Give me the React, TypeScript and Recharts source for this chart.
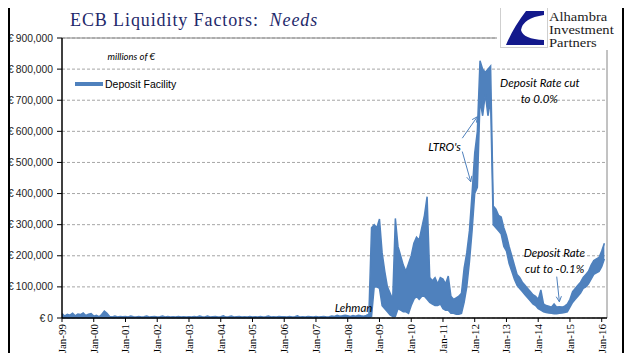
import {
  AreaChart,
  Area,
  XAxis,
  YAxis,
  CartesianGrid,
  ReferenceLine,
  ReferenceDot,
} from "recharts";

// x axis: month index, 0 = Jan-99
const yearLabels = [
  "Jan-99", "Jan-00", "Jan-01", "Jan-02", "Jan-03", "Jan-04",
  "Jan-05", "Jan-06", "Jan-07", "Jan-08", "Jan-09", "Jan-10",
  "Jan-11", "Jan-12", "Jan-13", "Jan-14", "Jan-15", "Jan-16",
];
const yTicks = [0, 100000, 200000, 300000, 400000, 500000, 600000, 700000, 800000, 900000];

// ECB deposit facility, millions of €, monthly high / low, Jan-99 .. Feb-16
const depositHigh = [
  14000, 6000, 12000, 9000, 15000, 7000, 13000, 11000, 16000, 8000, 12000, 14000, // 1999
  6000, 9000, 4000, 11000, 22000, 15000, 5000, 3000, 6000, 3000, 5000, 4000, // 2000
  5000, 3000, 6000, 4000, 3000, 5000, 3000, 4000, 6000, 3000, 4000, 5000, // 2001
  3000, 4000, 6000, 3000, 5000, 3000, 4000, 3000, 5000, 3000, 4000, 3000, // 2002
  4000, 3000, 5000, 3000, 6000, 4000, 3000, 6000, 3000, 4000, 5000, 3000, // 2003
  4000, 7000, 3000, 4000, 6000, 3000, 4000, 5000, 3000, 4000, 3000, 5000, // 2004
  3000, 4000, 3000, 5000, 3000, 4000, 6000, 3000, 4000, 3000, 5000, 4000, // 2005
  4000, 3000, 5000, 3000, 4000, 7000, 3000, 4000, 3000, 5000, 4000, 3000, // 2006
  5000, 3000, 4000, 5000, 3000, 4000, 6000, 5000, 9000, 6000, 7000, 9000, // 2007
  7000, 5000, 8000, 6000, 9000, 7000, 6000, 8000, 12000, 290000, 300000, 290000, // 2008
  318000, 210000, 150000, 100000, 80000, 60000, 320000, 230000, 200000, 170000, 150000, 175000, // 2009
  200000, 240000, 260000, 250000, 290000, 330000, 390000, 130000, 120000, 130000, 110000, 130000, // 2010
  125000, 110000, 135000, 70000, 60000, 65000, 70000, 80000, 160000, 210000, 280000, 400000, // 2011
  530000, 600000, 827000, 800000, 790000, 800000, 810000, 360000, 350000, 330000, 325000, 290000, // 2012
  265000, 230000, 200000, 170000, 140000, 130000, 115000, 105000, 95000, 85000, 75000, 70000, // 2013
  60000, 90000, 45000, 40000, 38000, 35000, 45000, 35000, 36000, 35000, 38000, 45000, // 2014
  60000, 85000, 95000, 105000, 115000, 130000, 140000, 150000, 170000, 185000, 190000, 195000, // 2015
  215000, 240000, // 2016
];
const depositLow = [
  500, 500, 500, 500, 500, 500, 500, 500, 500, 500, 500, 500, // 1999
  500, 500, 500, 500, 500, 500, 500, 500, 500, 500, 500, 500, // 2000
  500, 500, 500, 500, 500, 500, 500, 500, 500, 500, 500, 500, // 2001
  500, 500, 500, 500, 500, 500, 500, 500, 500, 500, 500, 500, // 2002
  500, 500, 500, 500, 500, 500, 500, 500, 500, 500, 500, 500, // 2003
  500, 500, 500, 500, 500, 500, 500, 500, 500, 500, 500, 500, // 2004
  500, 500, 500, 500, 500, 500, 500, 500, 500, 500, 500, 500, // 2005
  500, 500, 500, 500, 500, 500, 500, 500, 500, 500, 500, 500, // 2006
  500, 500, 500, 500, 500, 500, 500, 500, 500, 500, 500, 500, // 2007
  500, 500, 500, 500, 500, 500, 500, 500, 500, 5000, 100000, 100000, // 2008
  95000, 40000, 30000, 20000, 10000, 5000, 5000, 30000, 25000, 20000, 20000, 15000, // 2009
  40000, 60000, 70000, 60000, 70000, 70000, 60000, 50000, 45000, 40000, 40000, 45000, // 2010
  30000, 25000, 25000, 15000, 15000, 12000, 12000, 15000, 50000, 100000, 180000, 280000, // 2011
  400000, 420000, 700000, 650000, 720000, 650000, 700000, 300000, 290000, 280000, 270000, 230000, // 2012
  215000, 175000, 150000, 125000, 105000, 95000, 85000, 75000, 65000, 55000, 45000, 40000, // 2013
  30000, 25000, 20000, 18000, 16000, 15000, 14000, 14000, 15000, 16000, 18000, 20000, // 2014
  35000, 50000, 60000, 70000, 80000, 95000, 100000, 110000, 125000, 140000, 145000, 150000, // 2015
  165000, 190000, // 2016
];

// text notes placed in chart coordinates (month index, € millions)
const notes = [
  { m: 26.2, v: 839000, text: "millions of €", size: 9.5 },
  { m: 110.2, v: 33000, text: "Lehman", size: 11.5 },
  { m: 144.6, v: 551000, text: "LTRO's", size: 11.5 },
  { m: 180.6, v: 755000, text: "Deposit Rate cut", size: 11.5 },
  { m: 180.4, v: 704000, text: "to 0.0%", size: 11.5 },
  { m: 186.1, v: 208000, text: "Deposit Rate", size: 11.5 },
  { m: 186.2, v: 157000, text: "cut to -0.1%", size: 11.5 },
];
const arrows = [
  { m1: 151.3, v1: 578000, m2: 157.0, v2: 647000 },
  { m1: 151.3, v1: 535000, m2: 154.5, v2: 438000 },
  { m1: 187.0, v1: 133000, m2: 188.0, v2: 52000 },
];

const data = depositHigh.map((h, i) => ({ m: i, range: [depositLow[i], h] }));
const BLUE = "#4F81BD";

const XTick = ({ x, y, payload }: any) => (
  <text
    x={x}
    y={y}
    transform={`rotate(-90 ${x} ${y})`}
    textAnchor="end"
    dy="0.35em"
    fontFamily="Liberation Serif"
    fontSize={11}
    fill="#000"
  >
    {yearLabels[Math.round(payload.value / 12)]}
  </text>
);

const YTick = ({ x, y, payload }: any) => (
  <text x={x} y={y} textAnchor="end" dy="0.35em" fontFamily="Liberation Sans" fontSize={10.3} fill="#222">
    {`€\u2009${payload.value.toLocaleString("en-US")}`}
  </text>
);

const arrowShape = (p: any) => {
  const { x1, y1, x2, y2 } = p;
  const a = Math.atan2(y2 - y1, x2 - x1);
  const len = 6;
  const hx1 = x2 - len * Math.cos(a - 0.45);
  const hy1 = y2 - len * Math.sin(a - 0.45);
  const hx2 = x2 - len * Math.cos(a + 0.45);
  const hy2 = y2 - len * Math.sin(a + 0.45);
  return (
    <g stroke={BLUE} strokeWidth={1} fill="none">
      <line x1={x1} y1={y1} x2={x2} y2={y2} />
      <polyline points={`${hx1},${hy1} ${x2},${y2} ${hx2},${hy2}`} />
    </g>
  );
};

export default function App() {
  return (
    <div style={{ position: "relative", width: 641, height: 361, margin: -8, background: "#fff", overflow: "hidden" }}>
      <div style={{ position: "absolute", left: 0, top: 0 }}>
        <AreaChart width={641} height={361} data={data} margin={{ top: 38, right: 34, left: 0, bottom: 0 }}>
          <CartesianGrid vertical={false} stroke="#A6A6A6" strokeDasharray="3 2" />
          <XAxis
            dataKey="m"
            type="number"
            domain={[0, 206]}
            ticks={yearLabels.map((_, i) => i * 12)}
            tick={<XTick />}
            tickSize={4}
            tickMargin={2}
            height={43}
            interval={0}
            axisLine={{ stroke: "#000", strokeWidth: 1.5 }}
            tickLine={{ stroke: "#000" }}
          />
          <YAxis
            type="number"
            domain={[0, 900000]}
            ticks={yTicks}
            width={62}
            tickSize={5}
            tickMargin={4}
            interval={0}
            tick={<YTick />}
            axisLine={{ stroke: "#000", strokeWidth: 1.5 }}
            tickLine={{ stroke: "#000" }}
          />
          <ReferenceLine y={900000} stroke="#868686" />
          <ReferenceLine x={206} stroke="#868686" />
          <Area
            type="linear"
            dataKey="range"
            stroke={BLUE}
            strokeWidth={1.5}
            fill={BLUE}
            fillOpacity={1}
            isAnimationActive={false}
            dot={false}
            activeDot={false}
          />
          {notes.map((n) => (
            <ReferenceDot
              key={n.text}
              x={n.m}
              y={n.v}
              r={0}
              stroke="none"
              label={{
                value: n.text,
                position: "center",
                fill: "#000",
                fontSize: n.size,
                fontStyle: "italic",
                fontFamily: "Lato",
              }}
            />
          ))}
          {arrows.map((a, i) => (
            <ReferenceLine
              key={i}
              segment={[
                { x: a.m1, y: a.v1 },
                { x: a.m2, y: a.v2 },
              ]}
              shape={arrowShape}
            />
          ))}
        </AreaChart>
      </div>

      <div
        style={{
          position: "absolute",
          left: 75,
          top: 78,
          display: "flex",
          alignItems: "center",
          fontFamily: "Liberation Sans",
          fontSize: 10.5,
          color: "#000",
          whiteSpace: "nowrap",
        }}
      >
        <div style={{ width: 28, height: 4, background: BLUE, marginRight: 2 }} />
        <span>Deposit Facility</span>
      </div>

      <div style={{ position: "absolute", left: 497, top: 5, width: 125, height: 45, background: "#fff" }} />
      <div style={{ position: "absolute", left: 500, top: 7, width: 46, height: 39, border: "1px solid #cfcfcf", background: "#fff" }}>
        <svg width={46} height={39}>
          <path d="M43,3 L25,3 Q12,20 5,37 L43,37 L43,32 Q22,31 20,22 Q22,10 43,7 Z" fill="#13198C" />
        </svg>
      </div>
      <div
        style={{
          position: "absolute",
          left: 549,
          top: 10.5,
          fontFamily: "Liberation Serif",
          fontSize: 13,
          lineHeight: "14.4px",
          color: "#1a1a1a",
          transform: "scale(1.12, 0.9)",
          transformOrigin: "left top",
          whiteSpace: "nowrap",
        }}
      >
        <div>Alhambra</div>
        <div>Investment</div>
        <div>Partners</div>
      </div>

      <div
        style={{
          position: "absolute",
          left: 70,
          top: 11,
          fontFamily: "Liberation Serif",
          fontSize: 18,
          letterSpacing: 0.9,
          lineHeight: 1,
          color: "#1F2A6B",
          whiteSpace: "pre",
        }}
      >
        {"ECB Liquidity Factors:  "}
        <i>Needs</i>
      </div>

      <div style={{ position: "absolute", left: 8, top: 3, width: 612, height: 350, border: "2px solid #000" }} />
    </div>
  );
}
